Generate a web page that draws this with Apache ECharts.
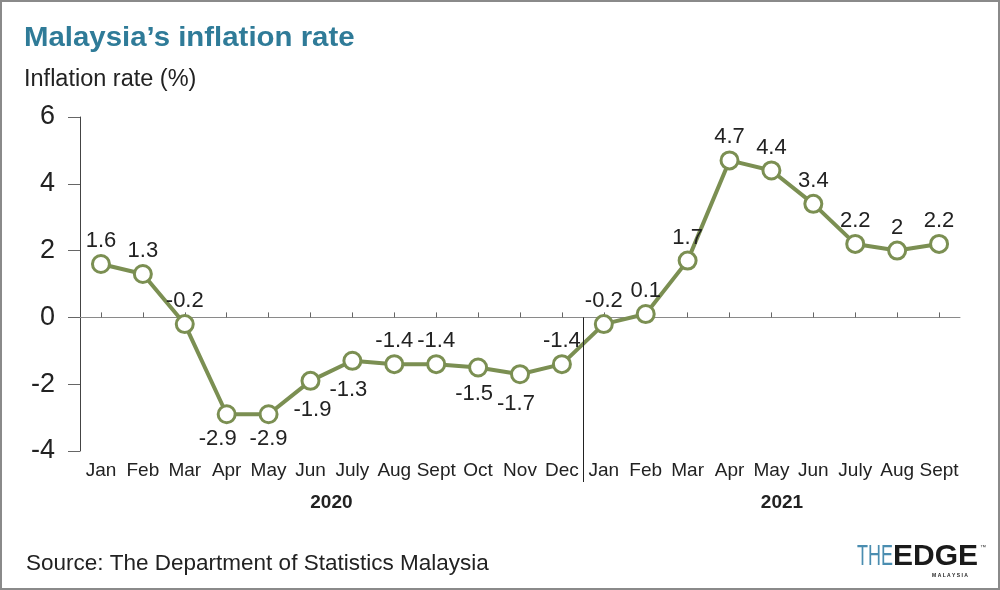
<!DOCTYPE html>
<html><head><meta charset="utf-8">
<script src="https://cdn.jsdelivr.net/npm/echarts@6/dist/echarts.min.js"></script>
<style>html,body{margin:0;padding:0;background:#fff}#c{width:1000px;height:590px}</style>
</head><body><div id="c"></div>
<script>
const months = ['Jan','Feb','Mar','Apr','May','Jun','July','Aug','Sept','Oct','Nov','Dec','Jan','Feb','Mar','Apr','May','Jun','July','Aug','Sept'];
const inflation = [1.6,1.3,-0.2,-2.9,-2.9,-1.9,-1.3,-1.4,-1.4,-1.5,-1.7,-1.4,-0.2,0.1,1.7,4.7,4.4,3.4,2.2,2,2.2];
const years = ['2020','2021'];
const yTicks = {min:-4,max:6,interval:2};
const belowIdx = [3,4,5,6,9,10];
const labelOffsets = {3:[-9,2],4:[0,2],5:[2,6],6:[-4,6],9:[-4,3],10:[-4,7]};

const FONT = '"Liberation Sans", Arial, Helvetica, sans-serif';
const chart = echarts.init(document.getElementById('c'));
const data = inflation.map((v,i)=>{
  const below = belowIdx.includes(i);
  return {value:v,label:{position: below?'bottom':'top', offset: labelOffsets[i]||[0,0]}};
});
chart.setOption({
  backgroundColor:'#fff',
  animation:false,
  grid:{left:80,right:40,top:117,bottom:139},
  xAxis:[{
    type:'category',data:months,position:'bottom',
    axisLine:{show:false,onZero:false},axisTick:{show:false},
    axisLabel:{fontFamily:FONT,fontSize:19,color:'#222',margin:10,interval:0}
  },{
    type:'category',data:months,
    axisLine:{show:true,onZero:true,lineStyle:{color:'#8a8a8a',width:1}},
    axisTick:{show:true,alignWithLabel:true,length:5,lineStyle:{color:'#666'}},
    axisLabel:{show:false}
  }],
  yAxis:{
    type:'value',min:yTicks.min,max:yTicks.max,interval:yTicks.interval,
    axisLine:{show:true,lineStyle:{color:'#444',width:1}},
    axisTick:{show:true,length:12,lineStyle:{color:'#666'}},
    splitLine:{show:false},
    axisLabel:{fontFamily:FONT,fontSize:27,color:'#222',margin:25}
  },
  series:[{
    type:'line',data:data,xAxisIndex:0,
    symbol:'circle',symbolSize:17,
    lineStyle:{color:'#7b8f52',width:4},
    itemStyle:{color:'#fff',borderColor:'#7b8f52',borderWidth:3},
    label:{show:true,fontFamily:FONT,fontSize:22,color:'#222',distance:2},
    z:5
  }]
});

const px = i => chart.convertToPixel({xAxisIndex:0},i);
const py = v => chart.convertToPixel({yAxisIndex:0},v);
const divX = Math.round((px(11)+px(12))/2)+0.5;
chart.setOption({graphic:[
  {type:'rect',shape:{x:1,y:1,width:998,height:588},style:{fill:'none',stroke:'#8a8a8a',lineWidth:2},silent:true},
  {type:'line',shape:{x1:divX,y1:py(0),x2:divX,y2:482},style:{stroke:'#222',lineWidth:1},z:10},
  {type:'text',x:24,y:38,scaleX:1.05,style:{text:'Malaysia\u2019s inflation rate',font:'bold 28px '+FONT,fill:'#2f7b98',verticalAlign:'middle'}},
  {type:'text',x:24,y:80,style:{text:'Inflation rate (%)',font:'23.5px '+FONT,fill:'#222',verticalAlign:'middle'}},
  {type:'text',x:(px(0)+px(11))/2,y:503,style:{text:years[0],font:'bold 19px '+FONT,fill:'#222',align:'center',verticalAlign:'middle'}},
  {type:'text',x:782,y:503,style:{text:years[1],font:'bold 19px '+FONT,fill:'#222',align:'center',verticalAlign:'middle'}},
  {type:'text',x:26,y:564,style:{text:'Source: The Department of Statistics Malaysia',font:'22.5px '+FONT,fill:'#222',verticalAlign:'middle'}},
  {type:'text',x:857,y:557,scaleX:0.6,style:{text:'THE',font:'30px '+FONT,fill:'#4a8db0',verticalAlign:'middle'}},
  {type:'text',x:893,y:557,style:{text:'EDGE',font:'bold 30px '+FONT,fill:'#1a1a1a',verticalAlign:'middle'}},
  {type:'text',x:980,y:544,style:{text:'\u2122',font:'6px '+FONT,fill:'#333'}},
  {type:'text',x:950,y:576,style:{text:'M A L A Y S I A',font:'bold 5px '+FONT,fill:'#222',align:'center',verticalAlign:'middle'}}
]});
</script></body></html>
